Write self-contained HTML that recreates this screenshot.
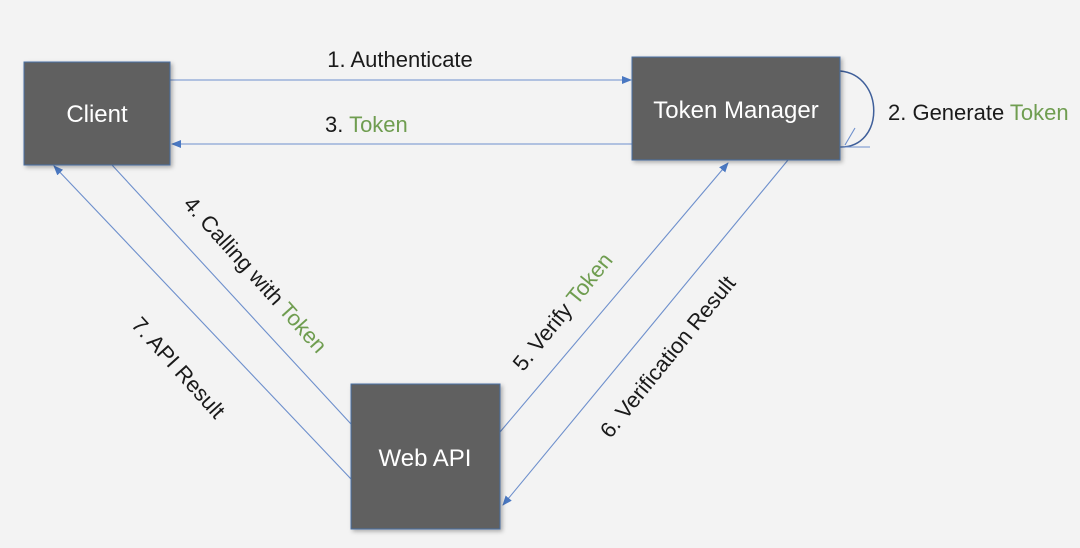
<!DOCTYPE html>
<html><head><meta charset="utf-8"><style>
html,body{margin:0;padding:0;background:#f3f3f3;}
svg{display:block;}
text{font-family:"Liberation Sans",sans-serif;}
</style></head><body>
<svg width="1080" height="548" viewBox="0 0 1080 548" xmlns="http://www.w3.org/2000/svg">
<defs>
<marker id="a" markerWidth="10" markerHeight="8" refX="9" refY="4" orient="auto" markerUnits="userSpaceOnUse">
<path d="M0,0 L10,4 L0,8 z" fill="#4a78c2"/></marker>
<filter id="s" x="-10%" y="-10%" width="130%" height="130%"><feDropShadow dx="2" dy="2" stdDeviation="2" flood-opacity="0.3"/></filter>
</defs>
<rect width="1080" height="548" fill="#f3f3f3"/>
<g stroke="#6d8fcc" stroke-width="1.1" fill="none">
<line x1="170" y1="80" x2="631" y2="80" marker-end="url(#a)"/>
<line x1="632" y1="144" x2="172" y2="144" marker-end="url(#a)"/>
<line x1="112" y1="165" x2="351" y2="424"/>
<line x1="351" y1="479" x2="54" y2="166" marker-end="url(#a)"/>
<line x1="500" y1="432" x2="728" y2="163" marker-end="url(#a)"/>
<line x1="788" y1="160" x2="503" y2="505" marker-end="url(#a)"/>
<path d="M840,71 C885,75 885,148 840,147" stroke="#3f5f9a" stroke-width="1.5"/>
<line x1="840" y1="147" x2="870" y2="147"/>
<line x1="845" y1="145" x2="855" y2="128"/>
</g>
<g fill="#606060" stroke="#4a6fa5" stroke-width="1" filter="url(#s)">
<rect x="24" y="62" width="146" height="103"/>
<rect x="632" y="57" width="208" height="103"/>
<rect x="351" y="384" width="149" height="145"/>
</g>
<g fill="#fff" font-size="24" text-anchor="middle">
<text x="97" y="122">Client</text>
<text x="736" y="118">Token Manager</text>
<text x="425" y="466">Web API</text>
</g>
<g fill="#1a1a1a" font-size="22">
<text x="400" y="67" text-anchor="middle">1. Authenticate</text>
<text x="325" y="132">3. <tspan fill="#6f9d50">Token</tspan></text>
<text x="888" y="120">2. Generate <tspan fill="#6f9d50">Token</tspan></text>
<text transform="translate(255,275) rotate(48)" text-anchor="middle" dy="7">4. Calling with <tspan fill="#6f9d50">Token</tspan></text>
<text transform="translate(178,368) rotate(48)" text-anchor="middle" dy="7">7. API Result</text>
<text transform="translate(563,312) rotate(-51)" text-anchor="middle" dy="7">5. Verify <tspan fill="#6f9d50">Token</tspan></text>
<text transform="translate(668,357) rotate(-51)" text-anchor="middle" dy="7">6. Verification Result</text>
</g>
</svg>
</body></html>
